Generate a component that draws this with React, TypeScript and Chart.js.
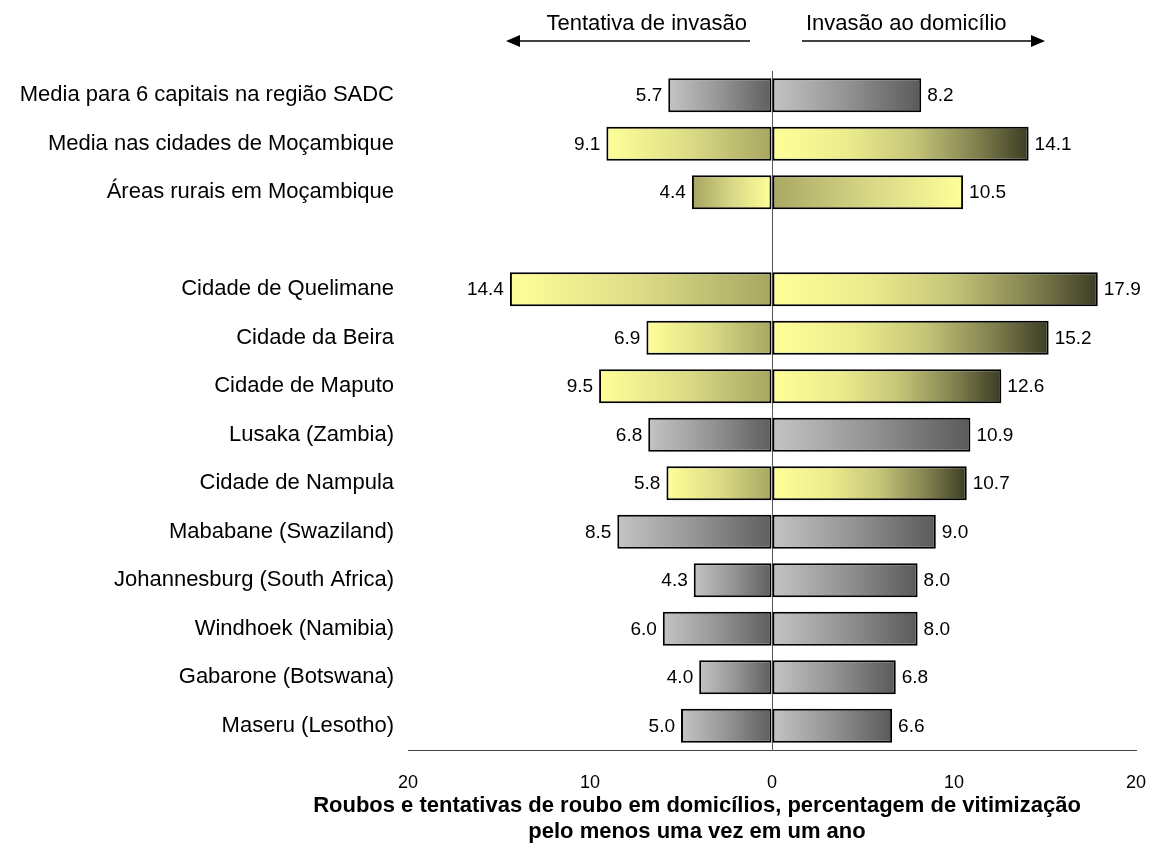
import React, { useEffect, useRef } from 'react';
import { Chart, registerables } from 'chart.js';

Chart.register(...registerables);

const categories = [
  'Media para 6 capitais na região SADC',
  'Media nas cidades de Moçambique',
  'Áreas rurais em Moçambique',
  '',
  'Cidade de Quelimane',
  'Cidade da Beira',
  'Cidade de Maputo',
  'Lusaka (Zambia)',
  'Cidade de Nampula',
  'Mababane (Swaziland)',
  'Johannesburg (South Africa)',
  'Windhoek (Namibia)',
  'Gabarone (Botswana)',
  'Maseru (Lesotho)',
];

const attemptedBurglary = [5.7, 9.1, 4.4, null, 14.4, 6.9, 9.5, 6.8, 5.8, 8.5, 4.3, 6.0, 4.0, 5.0];
const burglary = [8.2, 14.1, 10.5, null, 17.9, 15.2, 12.6, 10.9, 10.7, 9.0, 8.0, 8.0, 6.8, 6.6];
const regionGroup = ['sadc', 'moz', 'rural', '', 'moz', 'moz', 'moz', 'sadc', 'moz', 'sadc', 'sadc', 'sadc', 'sadc', 'sadc'];

const seriesNames = ['Tentativa de invasão', 'Invasão ao domicílio'];
const axisTitle = [
  'Roubos e tentativas de roubo em domicílios, percentagem de vitimização',
  'pelo menos uma vez em um ano',
];
const axisMin = -20;
const axisMax = 20;
const axisStep = 10;

const FONT = '"Liberation Sans", Arial, Helvetica, sans-serif';

type Stops = [number, string][];
const STOPS: Record<string, { left: Stops; right: Stops }> = {
  sadc: {
    left: [[0, '#c4c4c4'], [0.5, '#959595'], [1, '#5e5e5e']],
    right: [[0, '#c4c4c4'], [0.5, '#939393'], [1, '#5a5a5a']],
  },
  moz: {
    left: [[0, '#ffff99'], [0.5, '#dcdc86'], [1, '#a6a662']],
    right: [[0, '#ffff99'], [0.3, '#ebeb8d'], [0.55, '#c6c679'], [0.8, '#80804f'], [1, '#3c3c24']],
  },
  rural: {
    left: [[0, '#a4a460'], [0.5, '#d8d886'], [1, '#ffff99']],
    right: [[0, '#a8a864'], [0.5, '#d6d685'], [1, '#ffff99']],
  },
};

function makeFill(side: 'left' | 'right') {
  return (ctx: any) => {
    if (ctx.type !== 'data') return '#cccccc';
    const chart = ctx.chart;
    const xs = chart.scales && chart.scales.x;
    const v = ctx.raw;
    if (v == null || !xs) return 'rgba(0,0,0,0)';
    const p0 = xs.getPixelForValue(0);
    const p1 = xs.getPixelForValue(v);
    const a = Math.min(p0, p1);
    const b = Math.max(p0, p1);
    if (!isFinite(a) || !isFinite(b) || b - a < 1) return '#cccccc';
    const g = chart.ctx.createLinearGradient(a, 0, b, 0);
    const st = STOPS[regionGroup[ctx.dataIndex]] || STOPS.sadc;
    st[side].forEach(([o, c]) => g.addColorStop(o, c));
    return g;
  };
}

const valueLabels = {
  id: 'valueLabels',
  afterDatasetsDraw(chart: any) {
    const { ctx } = chart;
    ctx.save();
    ctx.font = `19px ${FONT}`;
    ctx.fillStyle = '#000';
    ctx.textBaseline = 'middle';
    chart.data.datasets.forEach((ds: any, di: number) => {
      const meta = chart.getDatasetMeta(di);
      meta.data.forEach((el: any, i: number) => {
        const v = ds.data[i];
        if (v == null) return;
        const txt = Math.abs(v).toFixed(1);
        if (v < 0) {
          ctx.textAlign = 'right';
          ctx.fillText(txt, el.x - 6, el.y + 1);
        } else {
          ctx.textAlign = 'left';
          ctx.fillText(txt, el.x + 6, el.y + 1);
        }
      });
    });
    ctx.restore();
  },
};

const annotations = {
  id: 'annotations',
  afterDraw(chart: any) {
    const { ctx } = chart;
    const xs = chart.scales.x;
    const x0 = xs.getPixelForValue(0);
    ctx.save();
    ctx.fillStyle = '#000';
    ctx.strokeStyle = '#000';
    ctx.font = `22px ${FONT}`;
    ctx.textBaseline = 'alphabetic';
    ctx.textAlign = 'right';
    ctx.fillText(seriesNames[0], x0 - 25, 30);
    ctx.textAlign = 'left';
    ctx.fillText(seriesNames[1], x0 + 34, 30);

    const ay = 41;
    ctx.lineWidth = 1.5;
    // left arrow
    const lt = x0 - 266;
    ctx.beginPath();
    ctx.moveTo(x0 - 22, ay);
    ctx.lineTo(lt + 10, ay);
    ctx.stroke();
    ctx.beginPath();
    ctx.moveTo(lt, ay);
    ctx.lineTo(lt + 14, ay - 6);
    ctx.lineTo(lt + 14, ay + 6);
    ctx.closePath();
    ctx.fill();
    // right arrow
    const rt = x0 + 273;
    ctx.beginPath();
    ctx.moveTo(x0 + 30, ay);
    ctx.lineTo(rt - 10, ay);
    ctx.stroke();
    ctx.beginPath();
    ctx.moveTo(rt, ay);
    ctx.lineTo(rt - 14, ay - 6);
    ctx.lineTo(rt - 14, ay + 6);
    ctx.closePath();
    ctx.fill();

    // axis title
    ctx.font = `bold 22px ${FONT}`;
    ctx.textAlign = 'center';
    ctx.textBaseline = 'middle';
    const cx = 697;
    ctx.fillText(axisTitle[0], cx, 806);
    ctx.fillText(axisTitle[1], cx, 832);
    ctx.restore();
  },
};

export default function App() {
  const ref = useRef<HTMLCanvasElement | null>(null);

  useEffect(() => {
    document.body.style.margin = '0';
    const canvas = ref.current;
    if (!canvas) return;
    const chart = new Chart(canvas, {
      type: 'bar',
      data: {
        labels: categories,
        datasets: [
          {
            label: seriesNames[0],
            data: attemptedBurglary.map((v) => (v == null ? null : -v)),
            backgroundColor: makeFill('left'),
            borderColor: '#000',
            borderWidth: 2,
            borderSkipped: false,
            barPercentage: 0.7,
            categoryPercentage: 1,
          },
          {
            label: seriesNames[1],
            data: burglary,
            backgroundColor: makeFill('right'),
            borderColor: '#000',
            borderWidth: 2,
            borderSkipped: false,
            barPercentage: 0.7,
            categoryPercentage: 1,
          },
        ],
      },
      options: {
        indexAxis: 'y',
        animation: false,
        responsive: false,
        devicePixelRatio: 1,
        layout: { padding: { top: 71, right: 14, left: 0, bottom: 0 } },
        plugins: {
          legend: { display: false },
          tooltip: { enabled: false },
          title: { display: false },
        },
        scales: {
          x: {
            type: 'linear',
            stacked: true,
            min: axisMin,
            max: axisMax,
            ticks: {
              stepSize: axisStep,
              padding: 22,
              color: '#000',
              font: { family: FONT, size: 18 },
              callback: (v: any) => String(Math.abs(Number(v))),
            },
            grid: {
              drawTicks: false,
              color: (c: any) => (c.tick && c.tick.value === 0 ? '#555555' : 'rgba(0,0,0,0)'),
              lineWidth: 1,
            },
            border: { display: true, color: '#444444', width: 1 },
            afterFit: (s: any) => {
              s.height = 98;
              s.paddingLeft = 0;
              s.paddingRight = 0;
            },
          },
          y: {
            stacked: true,
            ticks: {
              autoSkip: false,
              padding: 14,
              color: '#000',
              font: { family: FONT, size: 22 },
            },
            grid: { display: false, drawTicks: false },
            border: { display: false },
            afterFit: (s: any) => {
              s.width = 408;
            },
          },
        },
      },
      plugins: [valueLabels, annotations],
    } as any);
    return () => chart.destroy();
  }, []);

  return (
    <div style={{ width: 1150, height: 848, background: '#fff' }}>
      <canvas ref={ref} width={1150} height={848} style={{ display: 'block' }} />
    </div>
  );
}
